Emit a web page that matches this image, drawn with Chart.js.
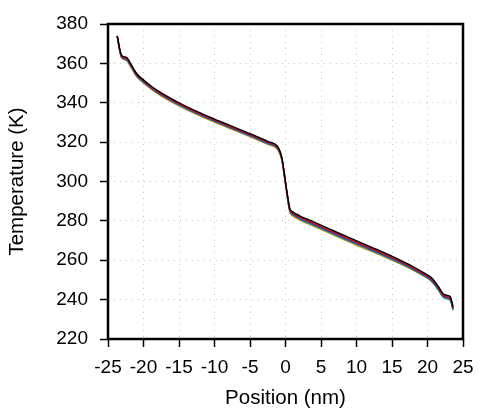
<!DOCTYPE html>
<html>
<head>
<meta charset="utf-8">
<script src="https://cdn.jsdelivr.net/npm/chart.js@4/dist/chart.umd.min.js"></script>
<style>
  html, body { margin: 0; padding: 0; background: #fff; }
  #wrap { width: 500px; height: 413px; }
</style>
</head>
<body>
<div id="wrap"><canvas id="tempChart" width="500" height="413"></canvas></div>
<script>
// positions along the channel (nm)
const positions = [-23.7, -23.1, -22.4, -21.7, -21.0, -20.3, -18.9, -17.5, -15, -12.5, -10, -7.5, -5, -2.5,
  -1.0, -0.5, -0.2, 0.2, 0.6, 1.1, 2, 3.5, 6, 8.5, 11, 13.5, 16, 18, 19.5, 20.5, 21.5, 22.2, 22.7, 23.2, 23.6];

// temperature profiles (K), one per run
const runBlack = [374.0, 364.2, 363.0, 359.2, 355.0, 352.5, 348.4, 345.0, 340.0, 335.6, 331.7, 328.0, 324.3, 320.4,
  317.2, 312.0, 305.0, 295.0, 286.5, 284.4, 282.6, 280.2, 276.2, 272.2, 268.3, 264.5, 260.3, 256.7, 253.6, 251.3, 246.8, 243.0, 242.2, 241.6, 236.4];
const runRed = [373.8, 363.8, 362.6, 358.8, 354.6, 352.1, 348.0, 344.6, 339.6, 335.2, 331.3, 327.6, 323.9, 320.0,
  316.8, 311.6, 304.6, 294.6, 286.0, 283.9, 282.0, 279.6, 275.6, 271.6, 267.7, 263.9, 259.8, 256.2, 253.1, 250.8, 246.3, 242.5, 241.7, 241.0, 235.9];
const runPurple = [373.9, 363.6, 362.3, 358.5, 354.3, 351.8, 347.7, 344.3, 339.3, 334.9, 331.0, 327.3, 323.6, 319.7,
  316.5, 311.4, 304.3, 294.3, 285.6, 283.5, 281.6, 279.2, 275.2, 271.2, 267.3, 263.5, 259.4, 255.8, 252.7, 250.4, 245.9, 242.1, 241.3, 240.6, 235.6];
const runBlue = [373.7, 363.3, 362.0, 358.2, 354.0, 351.5, 347.4, 344.0, 339.0, 334.6, 330.7, 327.0, 323.3, 319.4,
  316.2, 311.1, 304.0, 294.0, 285.2, 283.1, 281.2, 278.8, 274.8, 270.8, 266.9, 263.1, 259.0, 255.4, 252.3, 250.0, 245.5, 241.7, 240.9, 240.2, 235.1];
const runGreen = [373.6, 363.0, 361.7, 357.9, 353.7, 351.2, 347.1, 343.7, 338.7, 334.3, 330.4, 326.7, 323.0, 319.1,
  315.9, 310.8, 303.7, 293.7, 284.8, 282.7, 280.8, 278.4, 274.4, 270.4, 266.5, 262.7, 258.7, 255.1, 252.0, 249.6, 245.0, 241.2, 240.4, 239.6, 234.6];
const runOrange = [373.5, 362.8, 361.5, 357.6, 353.4, 350.9, 346.8, 343.4, 338.4, 334.0, 330.1, 326.4, 322.7, 318.8,
  315.6, 310.5, 303.4, 293.4, 284.5, 282.3, 280.4, 278.0, 274.0, 270.0, 266.1, 262.3, 258.4, 254.9, 251.9, 249.5, 245.2, 241.4, 240.6, 239.9, 235.0];

const xTicks = [-25, -20, -15, -10, -5, 0, 5, 10, 15, 20, 25];
const yTicks = [220, 240, 260, 280, 300, 320, 340, 360, 380];

const runs = [
  { name: "run 1", values: runBlack, color: "#000000" },
  { name: "run 2", values: runRed, color: "#d01010" },
  { name: "run 3", values: runPurple, color: "#7a1f7a" },
  { name: "run 4", values: runBlue, color: "#2060c0" },
  { name: "run 5", values: runGreen, color: "#2a9a70" },
  { name: "run 6", values: runOrange, color: "#e8a000" }
];

const FONT = "'Liberation Sans', Arial, Helvetica, sans-serif";

// box around the plot area
const frame = {
  id: "frame",
  afterDraw(chart) {
    const a = chart.chartArea;
    const ctx = chart.ctx;
    ctx.save();
    ctx.strokeStyle = "#000";
    ctx.lineWidth = 2.5;
    ctx.strokeRect(a.left, a.top, a.right - a.left, a.bottom - a.top);
    ctx.restore();
  }
};

const gridOpts = {
  color: "#c4c4c4",
  lineWidth: 1,
  tickColor: "#000",
  tickWidth: 1.5,
  tickLength: 8,
  tickBorderDash: []
};

// v4: border.dash is what dashes the grid lines
const borderOpts = { display: false, dash: [1, 5] };

new Chart(document.getElementById("tempChart").getContext("2d"), {
  type: "line",
  data: {
    datasets: runs.map(r => ({
      label: r.name,
      data: positions.map((p, i) => ({ x: p, y: r.values[i] })),
      borderColor: r.color,
      borderWidth: 1.4,
      pointRadius: 0,
      fill: false,
      cubicInterpolationMode: "monotone"
    }))
  },
  options: {
    responsive: false,
    animation: false,
    layout: { padding: { left: 0, top: 24, right: 37, bottom: 0 } },
    plugins: { legend: { display: false }, tooltip: { enabled: false } },
    scales: {
      x: {
        type: "linear",
        min: -25,
        max: 25,
        afterBuildTicks: s => { s.ticks = xTicks.map(v => ({ value: v })); },
        afterFit: s => { s.height = 74; },
        grid: gridOpts,
        border: borderOpts,
        ticks: { color: "#000", font: { family: FONT, size: 19 }, padding: 9, maxRotation: 0, autoSkip: false },
        title: { display: true, text: "Position (nm)", color: "#000", font: { family: FONT, size: 20.5 }, padding: { top: 0, bottom: 2 } }
      },
      y: {
        min: 220,
        max: 380,
        afterBuildTicks: s => { s.ticks = yTicks.map(v => ({ value: v })); },
        afterFit: s => { s.width = 108; },
        grid: gridOpts,
        border: borderOpts,
        ticks: { color: "#000", font: { family: FONT, size: 19 }, padding: 12, autoSkip: false },
        title: { display: true, text: "Temperature (K)", color: "#000", font: { family: FONT, size: 20.5 }, padding: { top: 5, bottom: 0 } }
      }
    }
  },
  plugins: [frame]
});
</script>
</body>
</html>
